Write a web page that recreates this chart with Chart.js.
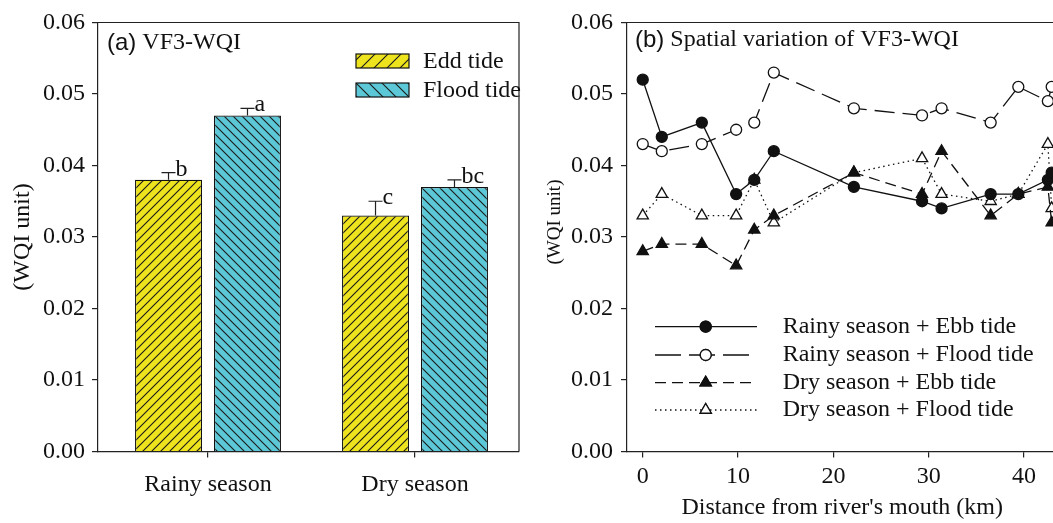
<!DOCTYPE html>
<html><head><meta charset="utf-8">
<script src="https://cdn.jsdelivr.net/npm/chart.js@4"></script>
<style>
html,body{margin:0;padding:0;overflow:hidden;background:#fff;width:1053px;height:523px;}
#wrap{position:relative;width:1053px;height:523px;overflow:hidden;background:#fff;}
#c1{position:absolute;left:0;top:0;width:540px;height:523px;}
#c2{position:absolute;left:530px;top:0;width:540px;height:523px;}
</style></head><body>
<div id="wrap"><canvas id="c1" width="540" height="523"></canvas><canvas id="c2" width="540" height="523"></canvas></div>
<script>
// ---- Panel (a) data ----
const seasons = ['Rainy season', 'Dry season'];
const eddTide = [0.038, 0.033];
const eddErr = [0.001, 0.002];
const floodTide = [0.047, 0.037];
const floodErr = [0.001, 0.001];
const eddLetters = ['b', 'c'];
const floodLetters = ['a', 'bc'];
const yTickValues = [0, 0.01, 0.02, 0.03, 0.04, 0.05, 0.06];

// ---- Panel (b) data ----
const distanceKm = [0, 2.0, 6.2, 9.8, 11.7, 13.75, 22.15, 29.3, 31.35, 36.5, 39.4, 42.5, 42.9];
const rainyEbb   = [0.052, 0.044, 0.046, 0.036, 0.038, 0.042, 0.037, 0.035, 0.034, 0.036, 0.036, 0.038, 0.039];
const rainyFlood = [0.043, 0.042, 0.043, 0.045, 0.046, 0.053, 0.048, 0.047, 0.048, 0.046, 0.051, 0.049, 0.051];
const dryEbb     = [0.028, 0.029, 0.029, 0.026, 0.031, 0.033, 0.039, 0.036, 0.042, 0.033, 0.036, 0.037, 0.032];
const dryFlood   = [0.033, 0.036, 0.033, 0.033, 0.038, 0.032, 0.039, 0.041, 0.036, 0.035, 0.036, 0.043, 0.034];
const xTickValues = [0, 10, 20, 30, 40];
const seriesNames = ['Rainy season + Ebb tide', 'Rainy season + Flood tide', 'Dry season + Ebb tide', 'Dry season + Flood tide'];

const SERIF = '"Liberation Serif", "Times New Roman", serif';
const SANS = '"Liberation Sans", Arial, sans-serif';
const INK = '#111';
const YELLOW = '#EEE41E';
const CYAN = '#5CC7D6';

function hatch(color, dir, sp) {
  const c = document.createElement('canvas');
  c.width = sp; c.height = sp;
  const g = c.getContext('2d');
  g.fillStyle = color; g.fillRect(0, 0, sp, sp);
  g.strokeStyle = '#1a1a1a'; g.lineWidth = 1.1;
  g.beginPath();
  if (dir > 0) {
    g.moveTo(-1, sp + 1); g.lineTo(sp + 1, -1);
    g.moveTo(-1, 1); g.lineTo(1, -1);
    g.moveTo(sp - 1, sp + 1); g.lineTo(sp + 1, sp - 1);
  } else {
    g.moveTo(-1, -1); g.lineTo(sp + 1, sp + 1);
    g.moveTo(sp - 1, -1); g.lineTo(sp + 1, 1);
    g.moveTo(-1, sp - 1); g.lineTo(1, sp + 1);
  }
  g.stroke();
  return c.getContext('2d').createPattern(c, 'repeat');
}
const yellowHatch = hatch(YELLOW, 1, 9);
const cyanHatch = hatch(CYAN, -1, 9);
const yellowHatchL = hatch(YELLOW, 1, 13);
const cyanHatchL = hatch(CYAN, -1, 13);

Chart.defaults.font.family = SERIF;
Chart.defaults.color = INK;

function axisCommon() {
  return {
    grid: { display: true, drawOnChartArea: false, drawTicks: true, tickLength: 6, color: '#222', lineWidth: 1.2, offset: false },
    border: { display: true, color: '#222', width: 1.2 }
  };
}

// ---------------- Panel (a) ----------------
const panelA = {
  id: 'panelA',
  afterDatasetsDraw(chart) {
    const ctx = chart.ctx, a = chart.chartArea, ys = chart.scales.y;
    ctx.save();
    ctx.strokeStyle = '#222'; ctx.lineWidth = 1.2;
    ctx.beginPath();
    ctx.moveTo(a.left, a.top); ctx.lineTo(a.right, a.top); ctx.lineTo(a.right, a.bottom);
    ctx.stroke();
    // error bars + letters
    const errs = [eddErr, floodErr], vals = [eddTide, floodTide], lets = [eddLetters, floodLetters];
    ctx.font = '24px ' + SERIF; ctx.fillStyle = INK; ctx.textBaseline = 'alphabetic'; ctx.textAlign = 'left';
    for (let d = 0; d < 2; d++) {
      const meta = chart.getDatasetMeta(d);
      meta.data.forEach((bar, i) => {
        const yTop = ys.getPixelForValue(vals[d][i]);
        const yE = ys.getPixelForValue(vals[d][i] + errs[d][i]);
        ctx.beginPath();
        ctx.moveTo(bar.x, yTop); ctx.lineTo(bar.x, yE);
        ctx.moveTo(bar.x - 7, yE); ctx.lineTo(bar.x + 7, yE);
        ctx.stroke();
        ctx.fillText(lets[d][i], bar.x + 7, yE + 3);
      });
    }
    // title
    ctx.textBaseline = 'middle';
    ctx.font = '24px ' + SANS;
    ctx.fillText('(a)', 107, 43);
    const w = ctx.measureText('(a)').width;
    ctx.font = '24px ' + SERIF;
    ctx.fillText(' VF3-WQI', 107 + w, 43);
    // legend
    const items = [[yellowHatchL, 'Edd tide', 54], [cyanHatchL, 'Flood tide', 83]];
    items.forEach(([pat, txt, y]) => {
      ctx.fillStyle = pat; ctx.fillRect(356, y, 53, 14);
      ctx.strokeStyle = '#111'; ctx.lineWidth = 1.2; ctx.strokeRect(356, y, 53, 14);
      ctx.fillStyle = INK; ctx.fillText(txt, 423, y + 8);
    });
    ctx.restore();
  }
};

new Chart(document.getElementById('c1'), {
  type: 'bar',
  data: {
    datasets: [
      { label: 'Edd tide', data: eddTide.map((v, i) => ({ x: i + 1, y: v })), backgroundColor: yellowHatch, borderColor: '#111', borderWidth: 1.2, categoryPercentage: 0.763, barPercentage: 0.848 },
      { label: 'Flood tide', data: floodTide.map((v, i) => ({ x: i + 1, y: v })), backgroundColor: cyanHatch, borderColor: '#111', borderWidth: 1.2, categoryPercentage: 0.763, barPercentage: 0.848 }
    ]
  },
  options: {
    responsive: false, animation: false, devicePixelRatio: 1,
    layout: { padding: { top: 22.5, right: 21, left: 0, bottom: 0 } },
    plugins: { legend: { display: false }, tooltip: { enabled: false } },
    scales: {
      x: Object.assign(axisCommon(), {
        type: 'linear', min: 0.4686, max: 2.5024, offset: false,
        afterBuildTicks(s) { s.ticks = seasons.map((_, i) => ({ value: i + 1 })); },
        ticks: { font: { size: 24, family: SERIF }, color: INK, padding: 13, callback: v => seasons[Math.round(v) - 1] || '' },
        afterFit(s) { s.height = 71.5; }
      }),
      y: Object.assign(axisCommon(), {
        min: 0, max: 0.06,
        afterBuildTicks(s) { s.ticks = yTickValues.map(v => ({ value: v })); },
        ticks: { font: { size: 24, family: SERIF }, color: INK, padding: 7, callback: v => Number(v).toFixed(2) },
        title: { display: true, text: '(WQI unit)', font: { size: 24, family: SERIF }, color: INK, padding: { top: 8.6, bottom: 0 } },
        afterFit(s) { s.width = 98; }
      })
    }
  },
  plugins: [panelA]
});

// ---------------- Panel (b) ----------------
const panelB = {
  id: 'panelB',
  afterDatasetsDraw(chart) {
    const ctx = chart.ctx, a = chart.chartArea;
    ctx.save();
    ctx.strokeStyle = '#222'; ctx.lineWidth = 1.2;
    ctx.beginPath();
    ctx.moveTo(a.left, a.top); ctx.lineTo(a.right, a.top); ctx.lineTo(a.right, a.bottom);
    ctx.stroke();
    ctx.fillStyle = INK; ctx.textBaseline = 'middle'; ctx.textAlign = 'left';
    // title
    ctx.font = '24px ' + SANS;
    ctx.fillText('(b)', 105, 40);
    const w = ctx.measureText('(b)').width;
    ctx.font = '24px ' + SERIF;
    ctx.fillText(' Spatial variation of VF3-WQI', 105 + w, 40);
    // y title
    ctx.save();
    ctx.translate(25, 222); ctx.rotate(-Math.PI / 2);
    ctx.textAlign = 'center'; ctx.font = '19px ' + SERIF;
    ctx.fillText('(WQI unit)', 0, 0);
    ctx.restore();
    // legend
    const rows = [326.7, 355, 382.7, 410];
    chart.data.datasets.forEach((ds, i) => {
      const y = rows[i];
      ctx.save();
      ctx.strokeStyle = '#111'; ctx.lineWidth = ds.borderWidth;
      ctx.setLineDash(ds.legendDash);
      ctx.beginPath(); ctx.moveTo(125, y); ctx.lineTo(227, y); ctx.stroke();
      ctx.setLineDash([]);
      Chart.helpers.drawPoint(ctx, { pointStyle: ds.pointStyle, radius: ds.pointRadius, borderWidth: ds.pointBorderWidth, rotation: 0 }, 175.7, y);
      ctx.fillStyle = ds.pointBackgroundColor; ctx.strokeStyle = '#111';
      ctx.lineWidth = ds.pointBorderWidth;
      ctx.fill(); ctx.stroke();
      ctx.restore();
      ctx.font = '24px ' + SERIF; ctx.fillStyle = INK;
      ctx.fillText(seriesNames[i], 252.7, y);
    });
    ctx.restore();
  }
};

function series(vals, name, dash, legendDash, style, filled, r) {
  return {
    label: name,
    data: distanceKm.map((d, i) => ({ x: d, y: vals[i] })),
    borderColor: '#111', borderWidth: 1.3, borderDash: dash, legendDash: legendDash,
    pointStyle: style, pointRadius: r, pointBorderWidth: 1.3,
    pointBackgroundColor: filled ? '#111' : '#fff', pointBorderColor: '#111',
    tension: 0, fill: false, clip: false
  };
}

new Chart(document.getElementById('c2'), {
  type: 'line',
  data: {
    datasets: [
      series(rainyEbb, seriesNames[0], [], [], 'circle', true, 5.5),
      series(rainyFlood, seriesNames[1], [20, 8], [26, 8], 'circle', false, 5.5),
      series(dryEbb, seriesNames[2], [11, 6], [11, 6], 'triangle', true, 6.5),
      series(dryFlood, seriesNames[3], [1.5, 3.5], [1.5, 3.5], 'triangle', false, 6.5)
    ]
  },
  options: {
    responsive: false, animation: false, devicePixelRatio: 1,
    layout: { padding: { top: 22.5, right: 12.6, left: 0, bottom: 0 } },
    plugins: { legend: { display: false }, tooltip: { enabled: false } },
    scales: {
      x: Object.assign(axisCommon(), {
        type: 'linear', min: -1.65, max: 43.5,
        afterBuildTicks(s) { s.ticks = xTickValues.map(v => ({ value: v })); },
        ticks: { font: { size: 24, family: SERIF }, color: INK, padding: 5, callback: v => String(v) },
        title: { display: true, text: "Distance from river's mouth (km)", font: { size: 24, family: SERIF }, color: INK, padding: { top: 0, bottom: 1 } },
        afterFit(s) { s.height = 71.5; }
      }),
      y: Object.assign(axisCommon(), {
        min: 0, max: 0.06,
        afterBuildTicks(s) { s.ticks = yTickValues.map(v => ({ value: v })); },
        ticks: { font: { size: 24, family: SERIF }, color: INK, padding: 8, callback: v => Number(v).toFixed(2) },
        afterFit(s) { s.width = 97; }
      })
    }
  },
  plugins: [panelB]
});
</script>
</body></html>
